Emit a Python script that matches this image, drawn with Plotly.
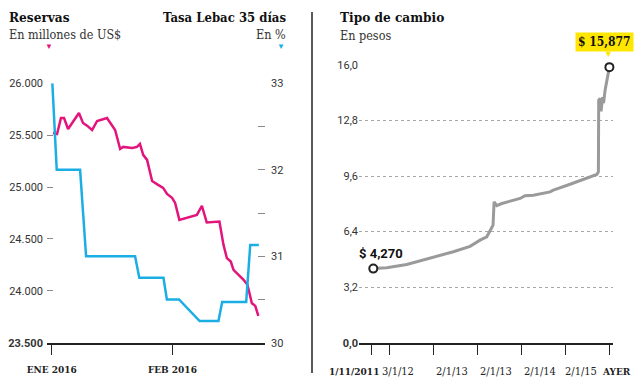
import plotly.graph_objects as go

# ---------------- data ----------------
# Reservas (millones de US$), Ene-Feb 2016
res_dates = ["2016-01-01 08:00", "2016-01-02 09:00", "2016-01-03 09:00", "2016-01-04 04:00",
             "2016-01-05 05:00", "2016-01-08 00:00", "2016-01-09 01:00", "2016-01-10 02:00",
             "2016-01-11 09:00", "2016-01-12 16:00", "2016-01-15 05:00", "2016-01-17 07:00",
             "2016-01-18 14:00", "2016-01-19 08:00", "2016-01-21 16:00", "2016-01-22 22:00",
             "2016-01-23 16:00", "2016-01-24 12:00", "2016-01-25 12:00", "2016-01-26 19:00",
             "2016-01-28 08:00", "2016-01-29 15:00", "2016-01-30 15:00", "2016-01-31 22:00",
             "2016-02-01 17:00", "2016-02-02 19:00", "2016-02-07 07:00", "2016-02-08 14:00",
             "2016-02-09 20:00", "2016-02-13 02:00", "2016-02-14 03:00", "2016-02-15 00:00",
             "2016-02-16 00:00", "2016-02-16 17:00", "2016-02-18 00:00", "2016-02-19 07:00",
             "2016-02-20 07:00", "2016-02-21 10:00", "2016-02-22 07:00", "2016-02-23 02:00"]
res_values = [25521, 25512, 25666, 25666, 25560, 25714, 25618, 25592,
              25550, 25637, 25666, 25550, 25367, 25387, 25377, 25387,
              25416, 25310, 25262, 25059, 25021, 24992, 24934, 24896,
              24847, 24684, 24732, 24819, 24658, 24667, 24443, 24315,
              24282, 24202, 24154, 24106, 24058, 23881, 23855, 23759]

# Tasa Lebac 35 dias (%)
rate_dates = ["2016-01-01 04:00", "2016-01-02 07:00", "2016-01-08 07:00", "2016-01-09 20:00",
              "2016-01-22 10:00", "2016-01-23 12:00", "2016-01-29 17:00", "2016-01-30 14:00",
              "2016-02-02 17:00", "2016-02-08 00:00", "2016-02-12 20:00", "2016-02-13 19:00",
              "2016-02-19 23:00", "2016-02-21 00:00", "2016-02-23 05:00"]
rate_values = [33.0, 32.0, 32.0, 31.0, 31.0, 30.75, 30.75, 30.5,
               30.5, 30.25, 30.25, 30.47, 30.47, 31.13, 31.13]

# Tipo de cambio (pesos) - position along the stylised time axis
fx_pos = [-0.364, -0.059, 0.395, 0.925, 1.455, 1.834, 2.061, 2.214, 2.305, 2.357,
          2.380, 2.441, 2.555, 2.818, 2.970, 3.084, 3.273, 3.652, 3.727, 4.107,
          4.486, 4.714, 4.750, 4.757, 4.789, 4.811, 4.845, 4.868, 4.902, 4.948, 5.0]
fx_values = [4.270, 4.32, 4.51, 4.86, 5.24, 5.55, 5.91, 6.10, 6.49, 6.77,
             8.11, 7.90, 8.02, 8.21, 8.31, 8.47, 8.50, 8.69, 8.79, 9.13,
             9.46, 9.69, 9.84, 13.97, 14.08, 13.33, 14.14, 13.80, 14.55, 15.24, 15.877]

res_ticks = [23500, 24000, 24500, 25000, 25500, 26000]
res_ticktext = ["<b>23.500</b>", "24.000", "24.500", "25.000", "25.500", "26.000"]
rate_ticks = [30, 30.5, 31, 31.5, 32, 32.5, 33]
rate_ticktext = ["30", "", "31", "", "32", "", "33"]
left_x_ticks = ["2016-01-01", "2016-02-01"]
left_x_ticktext = ["<b>ENE 2016</b>", "<b>FEB 2016</b>"]
fx_x_ticks = [-0.416, 0, 1, 2, 3, 4, 5]
fx_x_ticktext = ["<b>1/11/2011</b>", "3/1/12", "2/1/13", "2/1/13", "2/1/14", "2/1/15", "<b>AYER</b>"]
fx_y_ticks = [0, 3.2, 6.4, 9.6, 12.8, 16.0]
fx_y_ticktext = ["<b>0,0</b>", "3,2", "6,4", "9,6", "12,8", "16,0"]

# ---------------- layout / style ----------------
W, H = 640, 383
MAGENTA = "#E2157C"
BLUE = "#1AAEE4"
GREY = "#9A9A9A"
YELLOW = "#FFE600"
DARK = "#222222"
SERIF = "DejaVu Serif Condensed, DejaVu Serif, serif"
SANS = "Roboto, Arial, sans-serif"
# label centres (pixels) of the date labels under the exchange-rate chart
fx_label_centres = [354, 398, 452, 496, 540, 581, 616]


def px(x):
    return x / W


def py(y):
    return 1 - y / H


fig = go.Figure()

fig.add_trace(go.Scatter(x=res_dates, y=res_values, mode="lines",
                         line=dict(color=MAGENTA, width=2.5), xaxis="x", yaxis="y",
                         hoverinfo="skip", showlegend=False))
fig.add_trace(go.Scatter(x=rate_dates, y=rate_values, mode="lines",
                         line=dict(color=BLUE, width=2.5), xaxis="x", yaxis="y2",
                         hoverinfo="skip", showlegend=False))
fig.add_trace(go.Scatter(x=fx_pos, y=fx_values, mode="lines",
                         line=dict(color=GREY, width=3), xaxis="x2", yaxis="y3",
                         hoverinfo="skip", showlegend=False))
fig.add_trace(go.Scatter(x=[fx_pos[0], fx_pos[-1]], y=[fx_values[0], fx_values[-1]],
                         mode="markers", cliponaxis=False,
                         marker=dict(symbol="circle", size=8, color="white",
                                     line=dict(color=DARK, width=2)),
                         xaxis="x2", yaxis="y3", hoverinfo="skip", showlegend=False))

fig.update_layout(
    width=W, height=H,
    margin=dict(l=0, r=0, t=0, b=0, autoexpand=False),
    paper_bgcolor="white", plot_bgcolor="white",
    showlegend=False,
    xaxis=dict(type="date", domain=[px(47), px(265)],
               range=["2015-12-30 19:00", "2016-02-24 19:00"],
               anchor="y", showline=True, linecolor=DARK, linewidth=1.5,
               ticks="outside", ticklen=11, tickcolor=DARK, tickwidth=1.2,
               tickvals=left_x_ticks, ticktext=left_x_ticktext, tickangle=0,
               tickfont=dict(family=SERIF, size=10, color=DARK),
               ticklabelstandoff=6, automargin=False,
               showgrid=False, zeroline=False),
    yaxis=dict(domain=[py(342.7), py(83.3)], range=[23500, 26000], anchor="x",
               tickvals=res_ticks, ticktext=res_ticktext, automargin=False,
               ticks="inside", ticklen=6, tickcolor="#888", tickwidth=1,
               tickfont=dict(family=SANS, size=11, color="#333"),
               ticklabelstandoff=3,
               showline=False, showgrid=False, zeroline=False),
    yaxis2=dict(overlaying="y", side="right", anchor="x", range=[30, 33],
                tickvals=rate_ticks, ticktext=rate_ticktext, automargin=False,
                ticks="inside", ticklen=7, tickcolor="#888", tickwidth=1,
                tickfont=dict(family=SANS, size=11, color="#333"),
                ticklabelstandoff=5,
                showline=False, showgrid=False, zeroline=False),
    xaxis2=dict(domain=[px(359), px(613)], range=[-0.689, 5.082], anchor="y3",
                showline=True, linecolor=DARK, linewidth=1.5,
                ticks="outside", ticklen=11, tickcolor=DARK, tickwidth=1.2,
                tickvals=fx_x_ticks, showticklabels=False, automargin=False,
                showgrid=False, zeroline=False),
    yaxis3=dict(domain=[py(342.7), py(65)], range=[0, 16], anchor="x2",
                tickvals=fx_y_ticks, ticktext=fx_y_ticktext, automargin=False,
                ticks="", tickfont=dict(family=SANS, size=11, color="#333"),
                showgrid=True, gridcolor="#A8A8A8", griddash="dot", gridwidth=1,
                showline=False, zeroline=False),
)

annotations = [
    dict(text="<b>Reservas</b>", x=px(7), y=py(17), xanchor="left", yanchor="middle",
         font=dict(family=SERIF, size=13.5, color="#111")),
    dict(text="En millones de US$", x=px(7), y=py(34), xanchor="left", yanchor="middle",
         font=dict(family=SERIF, size=12.5, color="#333")),
    dict(text="<b>Tasa Lebac 35 días</b>", x=px(288), y=py(17), xanchor="right", yanchor="middle",
         font=dict(family=SERIF, size=13, color="#111")),
    dict(text="En %", x=px(288), y=py(34), xanchor="right", yanchor="middle",
         font=dict(family=SERIF, size=12.5, color="#333")),
    dict(text="▼", x=px(49), y=py(46), xanchor="center", yanchor="middle",
         font=dict(family=SANS, size=8, color=MAGENTA)),
    dict(text="▼", x=px(281), y=py(46), xanchor="center", yanchor="middle",
         font=dict(family=SANS, size=8, color=BLUE)),
    dict(text="<b>Tipo de cambio</b>", x=px(338), y=py(17), xanchor="left", yanchor="middle",
         font=dict(family=SERIF, size=13.5, color="#111")),
    dict(text="En pesos", x=px(338), y=py(35), xanchor="left", yanchor="middle",
         font=dict(family=SERIF, size=12.5, color="#333")),
]
for lbl, cx in zip(fx_x_ticktext, fx_label_centres):
    size = 10 if lbl.startswith("<b>") else 11
    annotations.append(dict(text=lbl, x=px(cx), y=py(371), xanchor="center", yanchor="middle",
                            font=dict(family=SERIF, size=size, color=DARK)))
for a in annotations:
    a.update(xref="paper", yref="paper", showarrow=False)

annotations += [
    dict(text="<b>$ 4,270</b>", x=fx_pos[0], y=fx_values[0], xref="x2", yref="y3",
         showarrow=False, xanchor="center", yanchor="middle", xshift=8, yshift=15,
         font=dict(family=SANS, size=13, color="#111")),
    dict(text="▼", x=fx_pos[-1], y=fx_values[-1], xref="x2", yref="y3",
         showarrow=False, xanchor="center", yanchor="middle", xshift=-1, yshift=13,
         font=dict(family=SANS, size=9, color=YELLOW)),
    dict(text="<b>$ 15,877</b>", x=fx_pos[-1], y=fx_values[-1], xref="x2", yref="y3",
         showarrow=False, xanchor="center", yanchor="middle", xshift=-5, yshift=25,
         bgcolor=YELLOW, borderpad=2,
         font=dict(family=SERIF, size=12, color="#111")),
]
fig.update_layout(annotations=annotations)

fig.add_shape(type="line", xref="paper", yref="paper",
              x0=px(312), x1=px(312), y0=py(373), y1=py(12),
              line=dict(color=DARK, width=1.5))

fig.write_html("out.html", config={"displayModeBar": False},
               post_script="document.body.style.margin='0';")
